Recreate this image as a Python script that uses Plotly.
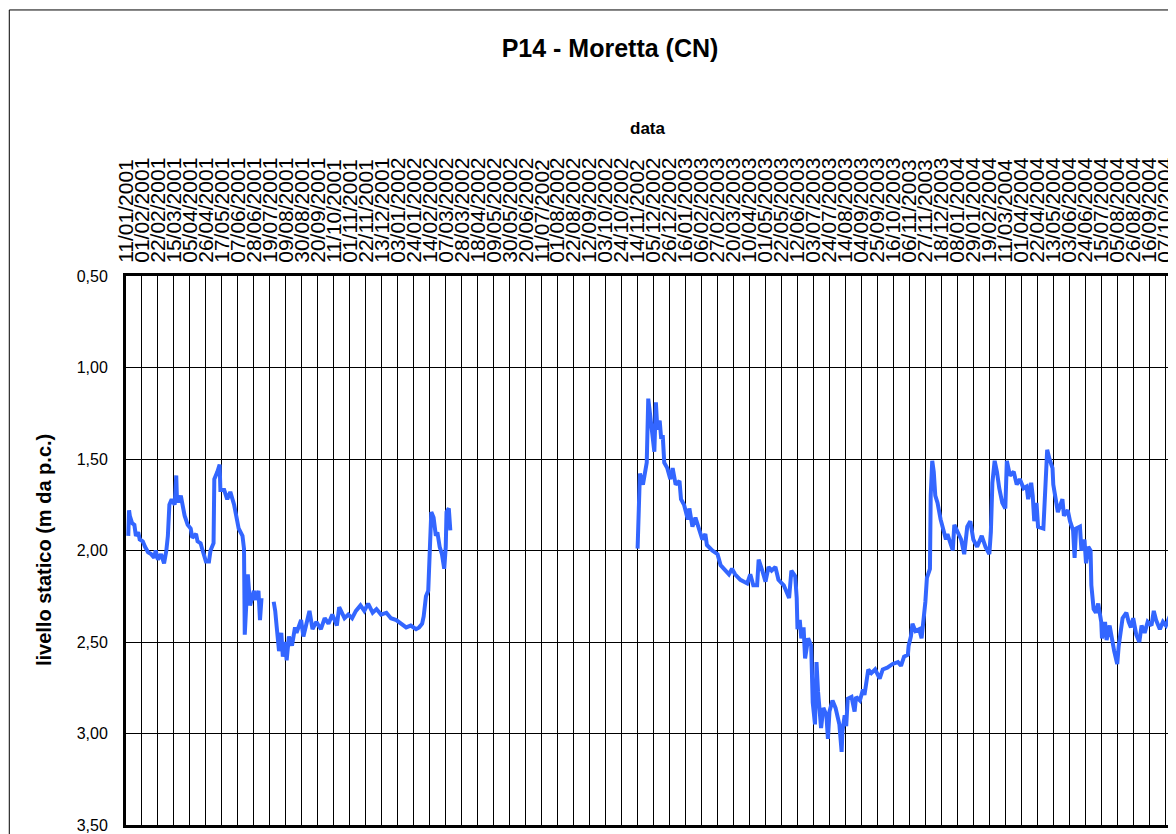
import pandas as pd
import plotly.graph_objects as go

# ---- data ----
start_date = "2001-01-11"
# days since 11/01/2001 ; None = no measurements
days = [
    3, 4, 5, 8, 11, 13, 16, 18, 22, 25, 29, 33, 37, 39, 42, 46, 48, 50, 53, 55,
    57, 60, 64, 66, 67, 70, 72, 74, 77, 81, 85, 87, 92, 94, 98, 100, 105, 109, 111, 115,
    116, 120, 123, 124, 129, 133, 137, 142, 144, 148, 153, 155, 156, 158, 160, 163, 168, 170, 174, 176,
    178, None,
    194, 196, 198, 201, 204, 206, 209, 211, 214, 218, 222, 224, 230, 233, 237, 241, 245, 250, 256, 261,
    266, 271, 277, 280, 287, 292, 297, 302, 308, 313, 318, 324, 329, 335, 342, 348, 355, 361, 368, 374,
    381, 385, 389, 391, 394, 397, 399, 401, 404, 407, 409, 412, 415, 418, 420, 421, 424, 426,
    None,
    672, 673, 675, 679, 682, 684, 686, 689, 692, 694, 696, 698, 701, 703, 705, 707, 711, 715, 718, 722,
    727, 729, 733, 738, 740, 744, 748, 753, 757, 761, 763, 770, 777, 781, 785, 792, 796, 800, 807, 816,
    820, 824, 829, 831, 835, 840, 844, 848, 853, 857, 864, 871, 874, 879, 881, 882, 885, 887, 890, 892,
    896, 900, 902, 905, 907, 909, 913, 916, 920, 922, 924, 928, 932, 935, 937, 940, 941, 944, 946, 948,
    953, 957, 959, 964, 968, 970, 975, 979, 984, 990, 994, 1000, 1007, 1014, 1018, 1022, 1027, 1028, 1031, 1033,
    1037, 1042, 1045, 1050, 1052, 1056, 1057, 1059, 1061, 1063, 1066, 1070, 1073, 1077, 1079, 1084, 1086, 1088, 1093, 1097,
    1101, 1105, 1109, 1113, 1118, 1124, 1129, 1134, 1136, 1138, 1141, 1144, 1147, 1151, 1155, 1157, 1161, 1166, 1170, 1174,
    1179, 1183, 1185, 1189, 1191, 1193, 1196, 1198, 1205, 1207, 1210, 1213, 1217, 1218, 1220, 1222, 1224, 1230, 1232, 1237,
    1240, 1244, 1246, 1248, 1253, 1255, 1259, 1261, 1264, 1267, 1268, 1271, 1274, 1277, 1281, 1282, 1286, 1288, 1292, 1295,
    1298, 1302, 1304, 1309, 1314, 1317, 1320, 1323, 1327, 1331, 1334, 1338, 1342, 1347, 1350, 1353, 1358, 1362, 1366, 1371,
]
livello = [
    1.92, 1.78, 1.81, 1.85, 1.86, 1.92, 1.90, 1.94, 1.95, 1.98, 2.01, 2.02, 2.04, 2.00, 2.05, 2.02, 2.05, 2.07, 2.00, 1.92,
    1.75, 1.72, 1.75, 1.59, 1.73, 1.73, 1.70, 1.75, 1.81, 1.86, 1.88, 1.93, 1.91, 1.95, 1.96, 1.99, 2.06, 2.06, 2.00, 1.96,
    1.61, 1.57, 1.53, 1.67, 1.67, 1.72, 1.68, 1.75, 1.79, 1.88, 1.92, 1.99, 2.46, 2.26, 2.13, 2.30, 2.22, 2.27, 2.22, 2.38,
    2.26, None,
    2.28, 2.33, 2.42, 2.55, 2.45, 2.58, 2.50, 2.60, 2.47, 2.52, 2.42, 2.45, 2.38, 2.47, 2.40, 2.33, 2.43, 2.39, 2.43, 2.37,
    2.40, 2.35, 2.41, 2.31, 2.37, 2.35, 2.37, 2.33, 2.30, 2.33, 2.29, 2.34, 2.32, 2.35, 2.34, 2.37, 2.38, 2.40, 2.42, 2.41,
    2.43, 2.42, 2.40, 2.36, 2.25, 2.22, 2.05, 1.79, 1.82, 1.92, 1.90, 1.98, 2.02, 2.10, 1.98, 1.79, 1.77, 1.89,
    None,
    1.99, 1.83, 1.58, 1.64, 1.57, 1.52, 1.17, 1.28, 1.41, 1.46, 1.19, 1.34, 1.29, 1.39, 1.37, 1.52, 1.55, 1.61, 1.55, 1.64,
    1.62, 1.72, 1.75, 1.83, 1.77, 1.87, 1.82, 1.89, 1.94, 1.91, 1.97, 2.00, 2.02, 2.08, 2.10, 2.13, 2.10, 2.13, 2.16, 2.18,
    2.13, 2.19, 2.19, 2.05, 2.10, 2.17, 2.09, 2.11, 2.09, 2.16, 2.19, 2.26, 2.11, 2.14, 2.26, 2.43, 2.38, 2.48, 2.42, 2.59,
    2.48, 2.52, 2.83, 2.95, 2.61, 2.77, 2.97, 2.86, 2.90, 3.03, 2.88, 2.82, 2.86, 2.93, 2.95, 3.10, 2.99, 2.90, 2.96, 2.81,
    2.80, 2.88, 2.80, 2.82, 2.76, 2.79, 2.65, 2.67, 2.65, 2.70, 2.65, 2.64, 2.62, 2.61, 2.63, 2.58, 2.57, 2.52, 2.47, 2.40,
    2.44, 2.43, 2.48, 2.28, 2.15, 2.10, 1.70, 1.51, 1.57, 1.70, 1.74, 1.83, 1.88, 1.94, 1.91, 1.97, 2.00, 1.86, 1.90, 1.94,
    2.02, 1.87, 1.84, 1.94, 1.98, 1.92, 1.98, 2.02, 1.90, 1.63, 1.51, 1.57, 1.66, 1.74, 1.77, 1.51, 1.59, 1.57, 1.64, 1.61,
    1.66, 1.65, 1.72, 1.63, 1.70, 1.84, 1.74, 1.87, 1.88, 1.70, 1.45, 1.50, 1.55, 1.64, 1.68, 1.74, 1.79, 1.72, 1.81, 1.78,
    1.84, 1.89, 2.04, 1.88, 1.87, 2.00, 1.94, 2.07, 1.98, 2.00, 2.19, 2.32, 2.34, 2.29, 2.39, 2.48, 2.39, 2.49, 2.41, 2.49,
    2.55, 2.62, 2.52, 2.37, 2.34, 2.39, 2.42, 2.37, 2.46, 2.50, 2.41, 2.45, 2.39, 2.41, 2.33, 2.38, 2.43, 2.39, 2.41, 2.36,
]
tick_dates = pd.date_range("2001-01-11", "2004-10-07", freq="21D")
tick_labels = [d.strftime("%d/%m/%Y") for d in tick_dates]
y_ticks = [0.5, 1.0, 1.5, 2.0, 2.5, 3.0, 3.5]

base = pd.Timestamp(start_date)
x_dates = [None if d is None else (base + pd.Timedelta(days=d)) for d in days]

fig = go.Figure()
fig.add_trace(go.Scatter(
    x=x_dates, y=livello, mode="lines",
    line=dict(color="#3366FF", width=4),
    connectgaps=False, hoverinfo="x+y", showlegend=False,
))

x_end = base + pd.Timedelta(days=1370)

fig.update_layout(
    width=1176, height=834,
    margin=dict(l=118, r=8, t=268, b=14),
    paper_bgcolor="white", plot_bgcolor="white",
    separators=",.",
    font=dict(family="Arial, Liberation Sans, sans-serif", color="black"),
    title=dict(text="<b>P14 - Moretta (CN)</b>", x=602 / 1176, xanchor="center",
               y=1 - 40 / 834, yanchor="middle", font=dict(size=25)),
    xaxis=dict(
        type="date", side="top", range=[base, x_end],
        tickmode="array", tickvals=list(tick_dates), ticktext=tick_labels,
        tickangle=-90, tickfont=dict(size=21), ticklabelstandoff=6,
        showgrid=True, gridcolor="black", gridwidth=1,
        showline=True, linecolor="black", linewidth=3, mirror=True,
        ticks="", zeroline=False,
    ),
    yaxis=dict(
        range=[3.5, 0.5], tickmode="array", tickvals=y_ticks,
        tickformat=".2f", tickfont=dict(size=16), ticklabelstandoff=12,
        showgrid=True, gridcolor="black", gridwidth=1,
        showline=True, linecolor="black", linewidth=3, mirror=True,
        ticks="", zeroline=False,
    ),
    annotations=[
        dict(text="<b>data</b>", xref="paper", yref="paper",
             x=0.5, y=(820 - 120) / 552, xanchor="center", yanchor="middle",
             showarrow=False, font=dict(size=17)),
        dict(text="<b>livello statico (m da p.c.)</b>", xref="paper", yref="paper",
             x=(35 - 118) / 1050, y=0.5, xanchor="center", yanchor="middle",
             textangle=-90, showarrow=False, font=dict(size=20)),
    ],
    shapes=[
        dict(type="rect", xref="paper", yref="paper",
             x0=-117.5 / 1050, x1=1057.5 / 1050, y0=-13.5 / 552, y1=819.5 / 552,
             line=dict(color="black", width=1), fillcolor="rgba(0,0,0,0)", layer="below"),
    ],
)

fig.write_html("out.html")
